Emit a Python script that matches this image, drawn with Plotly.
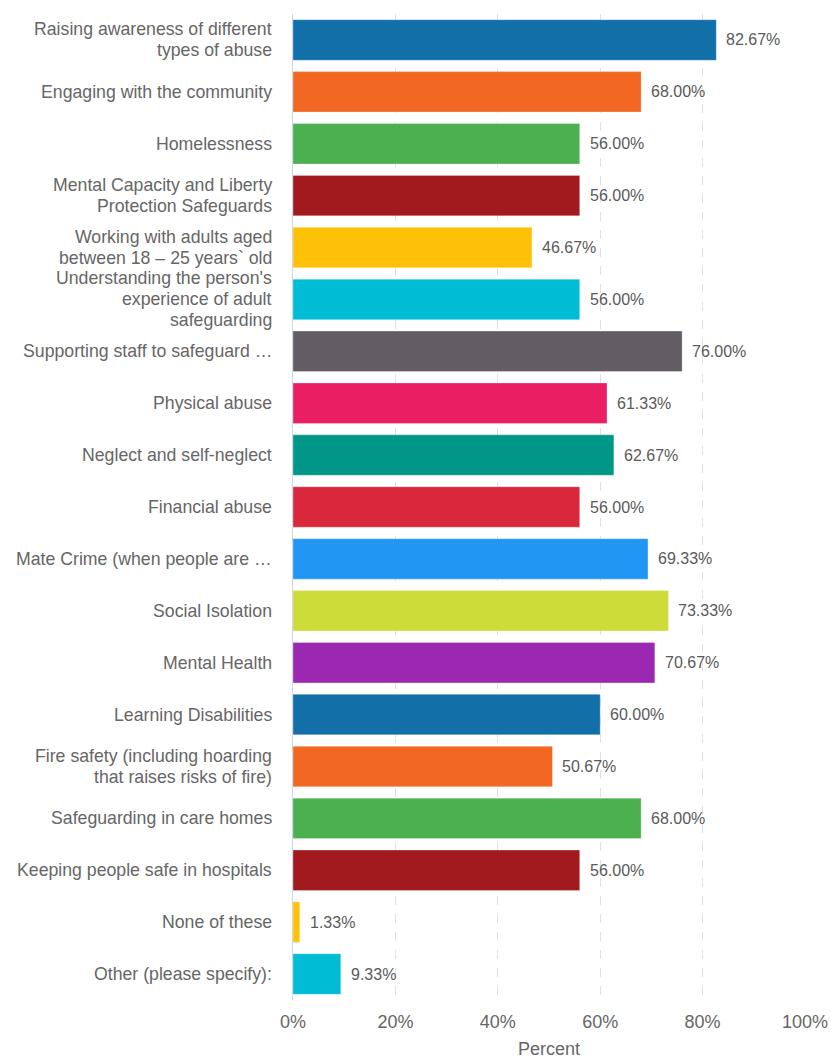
import plotly.graph_objects as go

categories = [
    "Raising awareness of different<br>types of abuse",
    "Engaging with the community",
    "Homelessness",
    "Mental Capacity and Liberty<br>Protection Safeguards",
    "Working with adults aged<br>between 18 – 25 years` old",
    "Understanding the person's<br>experience of adult<br>safeguarding",
    "Supporting staff to safeguard …",
    "Physical abuse",
    "Neglect and self-neglect",
    "Financial abuse",
    "Mate Crime (when people are …",
    "Social Isolation",
    "Mental Health",
    "Learning Disabilities",
    "Fire safety (including hoarding<br>that raises risks of fire)",
    "Safeguarding in care homes",
    "Keeping people safe in hospitals",
    "None of these",
    "Other (please specify):",
]

percent = [82.67, 68.00, 56.00, 56.00, 46.67, 56.00, 76.00, 61.33, 62.67, 56.00,
           69.33, 73.33, 70.67, 60.00, 50.67, 68.00, 56.00, 1.33, 9.33]

colors = ["#126fa8", "#f26722", "#4caf50", "#a31a1e", "#ffc107", "#00bcd4",
          "#625d64", "#e91e63", "#009688", "#d9283c", "#2196f3", "#cddc39",
          "#9c27b0", "#126fa8", "#f26722", "#4caf50", "#a31a1e", "#ffc107",
          "#00bcd4"]

x_ticks = [0, 20, 40, 60, 80, 100]

FONT = "Liberation Sans, Arial, sans-serif"
LABEL_SIZE = 17.7
LINE_GAP = 21  # px between lines of a wrapped category label

fig = go.Figure(
    go.Bar(
        x=percent,
        y=categories,
        orientation="h",
        marker=dict(color=colors, line=dict(color="rgba(255,255,255,0.6)", width=0.5)),
        width=0.78,
        hoverinfo="x+y",
    )
)

# category labels, one annotation per line so wrapped labels sit compactly
for cat in categories:
    lines = cat.split("<br>")
    n = len(lines)
    for i, line in enumerate(lines):
        fig.add_annotation(
            x=0, y=cat, xref="paper", yref="y",
            text=line,
            showarrow=False,
            xanchor="right",
            yanchor="middle",
            xshift=-19,
            yshift=((n - 1) / 2 - i) * LINE_GAP,
            font=dict(family=FONT, size=LABEL_SIZE, color="#666666"),
        )

# value labels just past the end of each bar
for cat, val in zip(categories, percent):
    fig.add_annotation(
        x=val, y=cat, xref="x", yref="y",
        text=f"{val:.2f}%",
        showarrow=False,
        xanchor="left",
        xshift=8,
        font=dict(family=FONT, size=16, color="#5a5a5a"),
    )

fig.update_layout(
    width=831,
    height=1059,
    margin=dict(l=293, r=26, t=14, b=59, autoexpand=False),
    plot_bgcolor="white",
    paper_bgcolor="white",
    showlegend=False,
    font=dict(family=FONT, color="#666666"),
)

fig.update_xaxes(
    range=[0, 100],
    tickvals=x_ticks,
    ticktext=[f"{t}%" for t in x_ticks],
    tickfont=dict(size=18, color="#666666"),
    showgrid=True,
    gridcolor="#e0e0e0",
    griddash="dash",
    gridwidth=1,
    zeroline=False,
    showline=False,
    automargin=False,
    title=dict(text="Percent", font=dict(size=18, color="#666666"), standoff=12),
    ticklabelstandoff=9,
)

fig.update_yaxes(
    autorange="reversed",
    showticklabels=False,
    showline=True,
    linecolor="#ccd6eb",
    linewidth=1,
    showgrid=False,
    automargin=False,
)

fig.write_html("out.html")
